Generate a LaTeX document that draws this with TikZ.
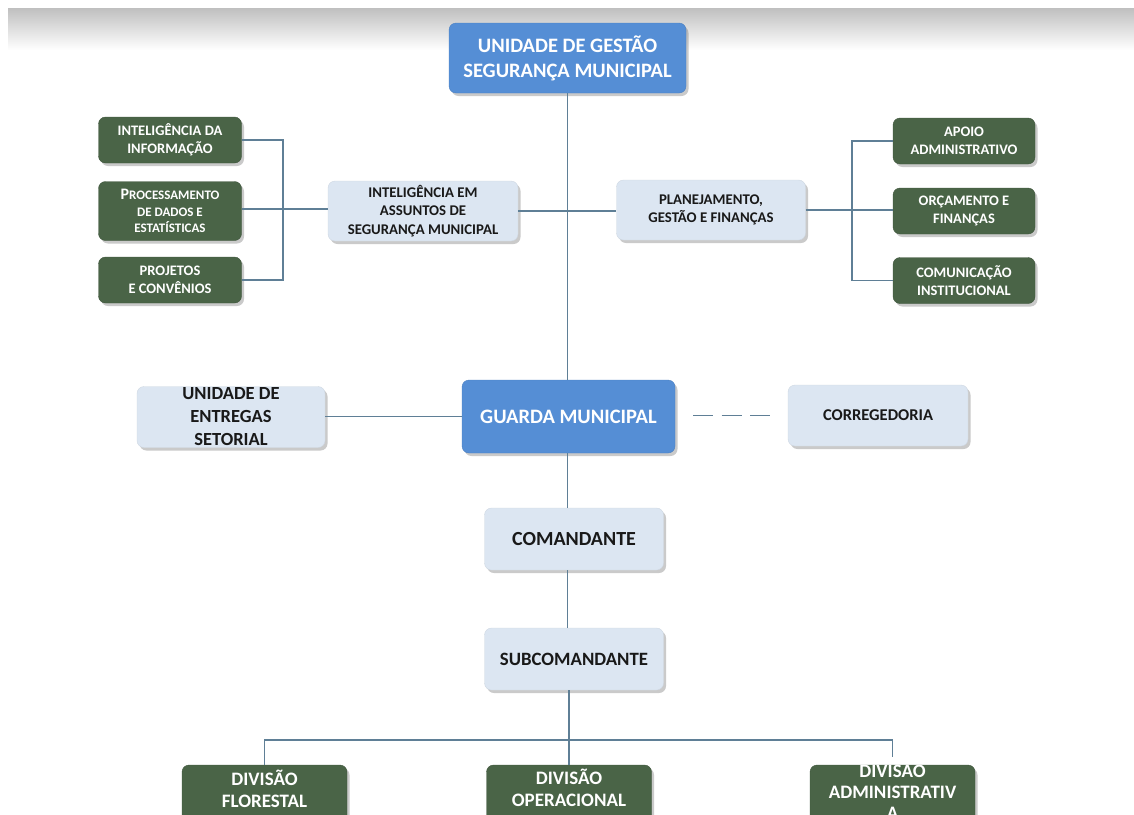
\documentclass[tikz,border=0pt]{standalone}
\usepackage{fontspec}
\setmainfont{Carlito}
\usetikzlibrary{shadows}
\definecolor{bblue}{HTML}{558ED5}
\definecolor{lblue}{HTML}{DCE6F2}
\definecolor{dgreen}{HTML}{4A6447}
\definecolor{lnc}{HTML}{5F7F96}
\begin{document}
\begin{tikzpicture}[x=1pt,y=-1pt,
  base/.style={rounded corners=7pt, align=center, inner sep=0pt,
    drop shadow={shadow xshift=2.5pt, shadow yshift=-3pt, opacity=0.35, fill=black!60}},
  bluebox/.style={base, fill=bblue, text=white, draw=bblue!90!black, line width=0.4pt},
  lightbox/.style={base, fill=lblue, text=black!90, draw=lblue!85!gray, line width=0.4pt},
  greenbox/.style={base, fill=dgreen, text=white, draw=dgreen!85!black, line width=0.4pt},
  conn/.style={draw=lnc, line width=1.1pt},
  gfont/.style={font=\fontsize{14.5}{18}\selectfont\bfseries},
  lfont/.style={font=\fontsize{14.8}{18.5}\selectfont\bfseries},
  dfont/.style={font=\fontsize{19}{22.5}\selectfont\bfseries, align=center, text=white},
]
\useasboundingbox (0,0) rectangle (1134,814);
\shade[top color=black!25, bottom color=white] (8,8) rectangle (1134,50);

% nodes
\node[bluebox, minimum width=237pt, minimum height=70pt, font=\fontsize{20.5}{25}\selectfont\bfseries] (top) at (567.5,58) {UNIDADE DE GESTÃO\\SEGURANÇA MUNICIPAL};

\node[lightbox, lfont, minimum width=190pt, minimum height=60pt] (intel) at (423,211) {INTELIGÊNCIA EM\\ASSUNTOS DE\\SEGURANÇA MUNICIPAL};
\node[lightbox, lfont, minimum width=189pt, minimum height=60pt] (plan) at (711,210) {PLANEJAMENTO,\\GESTÃO E FINANÇAS};

\node[greenbox, gfont, minimum width=143pt, minimum height=46pt] (g1) at (170,140) {INTELIGÊNCIA DA\\INFORMAÇÃO};
\node[greenbox, minimum width=143pt, minimum height=59pt, font=\fontsize{16}{16.5}\selectfont\bfseries] (g2) at (170,211) {P{\fontsize{13}{16.5}\selectfont ROCESSAMENTO}\\{\fontsize{13}{16.5}\selectfont DE DADOS E}\\{\fontsize{13}{16.5}\selectfont ESTATÍSTICAS}};
\node[greenbox, gfont, minimum width=143pt, minimum height=46pt] (g3) at (170,280) {PROJETOS\\E CONVÊNIOS};

\node[greenbox, gfont, minimum width=142pt, minimum height=46pt] (a1) at (964,141) {APOIO\\ADMINISTRATIVO};
\node[greenbox, gfont, minimum width=142pt, minimum height=46pt] (a2) at (964,211) {ORÇAMENTO E\\FINANÇAS};
\node[greenbox, gfont, minimum width=142pt, minimum height=46pt] (a3) at (964,280.5) {COMUNICAÇÃO\\INSTITUCIONAL};

\node[bluebox, minimum width=213pt, minimum height=73pt, font=\fontsize{20.5}{24}\selectfont\bfseries] (guarda) at (568.5,416.5) {GUARDA MUNICIPAL};
\node[lightbox, minimum width=188pt, minimum height=61pt, font=\fontsize{18.5}{23}\selectfont\bfseries] (ent) at (231,417) {UNIDADE DE\\ENTREGAS\\SETORIAL};
\node[lightbox, minimum width=180pt, minimum height=61pt, font=\fontsize{16.5}{20}\selectfont\bfseries] (corr) at (878,415.5) {CORREGEDORIA};

\node[lightbox, minimum width=179pt, minimum height=62pt, font=\fontsize{20}{22}\selectfont\bfseries] (cmd) at (574,539) {COMANDANTE};
\node[lightbox, minimum width=179pt, minimum height=62pt, font=\fontsize{18.8}{22}\selectfont\bfseries] (sub) at (574,659) {SUBCOMANDANTE};

\node[greenbox, minimum width=165pt, minimum height=64pt] (d1) at (264.5,797) {};
\node[greenbox, minimum width=165pt, minimum height=64pt] (d2) at (569,797) {};
\node[greenbox, minimum width=165pt, minimum height=64pt] (d3) at (892.5,797) {};
\node[dfont] (d1t) at (264.5,789) {DIVISÃO\\FLORESTAL};
\node[dfont] (d2t) at (569,788) {DIVISÃO\\OPERACIONAL};

% connectors
\draw[conn] (top.south) -- (top.south |- guarda.north);
\draw[conn] (intel.east) -- (plan.west |- intel.east);
\coordinate (lb) at (283,209);
\draw[conn] (g1.east) -| (lb) |- (g3.east);
\draw[conn] (g2.east |- lb) -- (intel.west |- lb);
\coordinate (rb) at (852,210);
\draw[conn] (a1.west) -| (rb) |- (a3.west);
\draw[conn] (plan.east) -- (a2.west |- plan.east);

\draw[conn] (ent.east |- guarda.west) -- (guarda.west);
\draw[conn, dash pattern=on 20pt off 8.5pt] ([xshift=18pt]guarda.east |- corr.west) -- ([xshift=-18pt]corr.west);
\draw[conn] (guarda.south -| top.south) -- (top.south |- cmd.north);
\draw[conn] (top.south |- cmd.south) -- (top.south |- sub.north);
\coordinate (bus) at (569,740);
\draw[conn] (sub.south -| bus) -- (bus);
\draw[conn] (d1.north) |- (bus) -| (d2.north);
\draw[conn] (bus) -| ([yshift=8pt]d3.north);

\begin{scope}
\clip (d3.north west) rectangle (d3.south east);
\node[font=\fontsize{19}{21}\selectfont\bfseries, align=center, text=white] (d3t) at (892.5,791) {DIVISÃO\\ADMINISTRATIV\\A};
\end{scope}
\end{tikzpicture}
\end{document}
